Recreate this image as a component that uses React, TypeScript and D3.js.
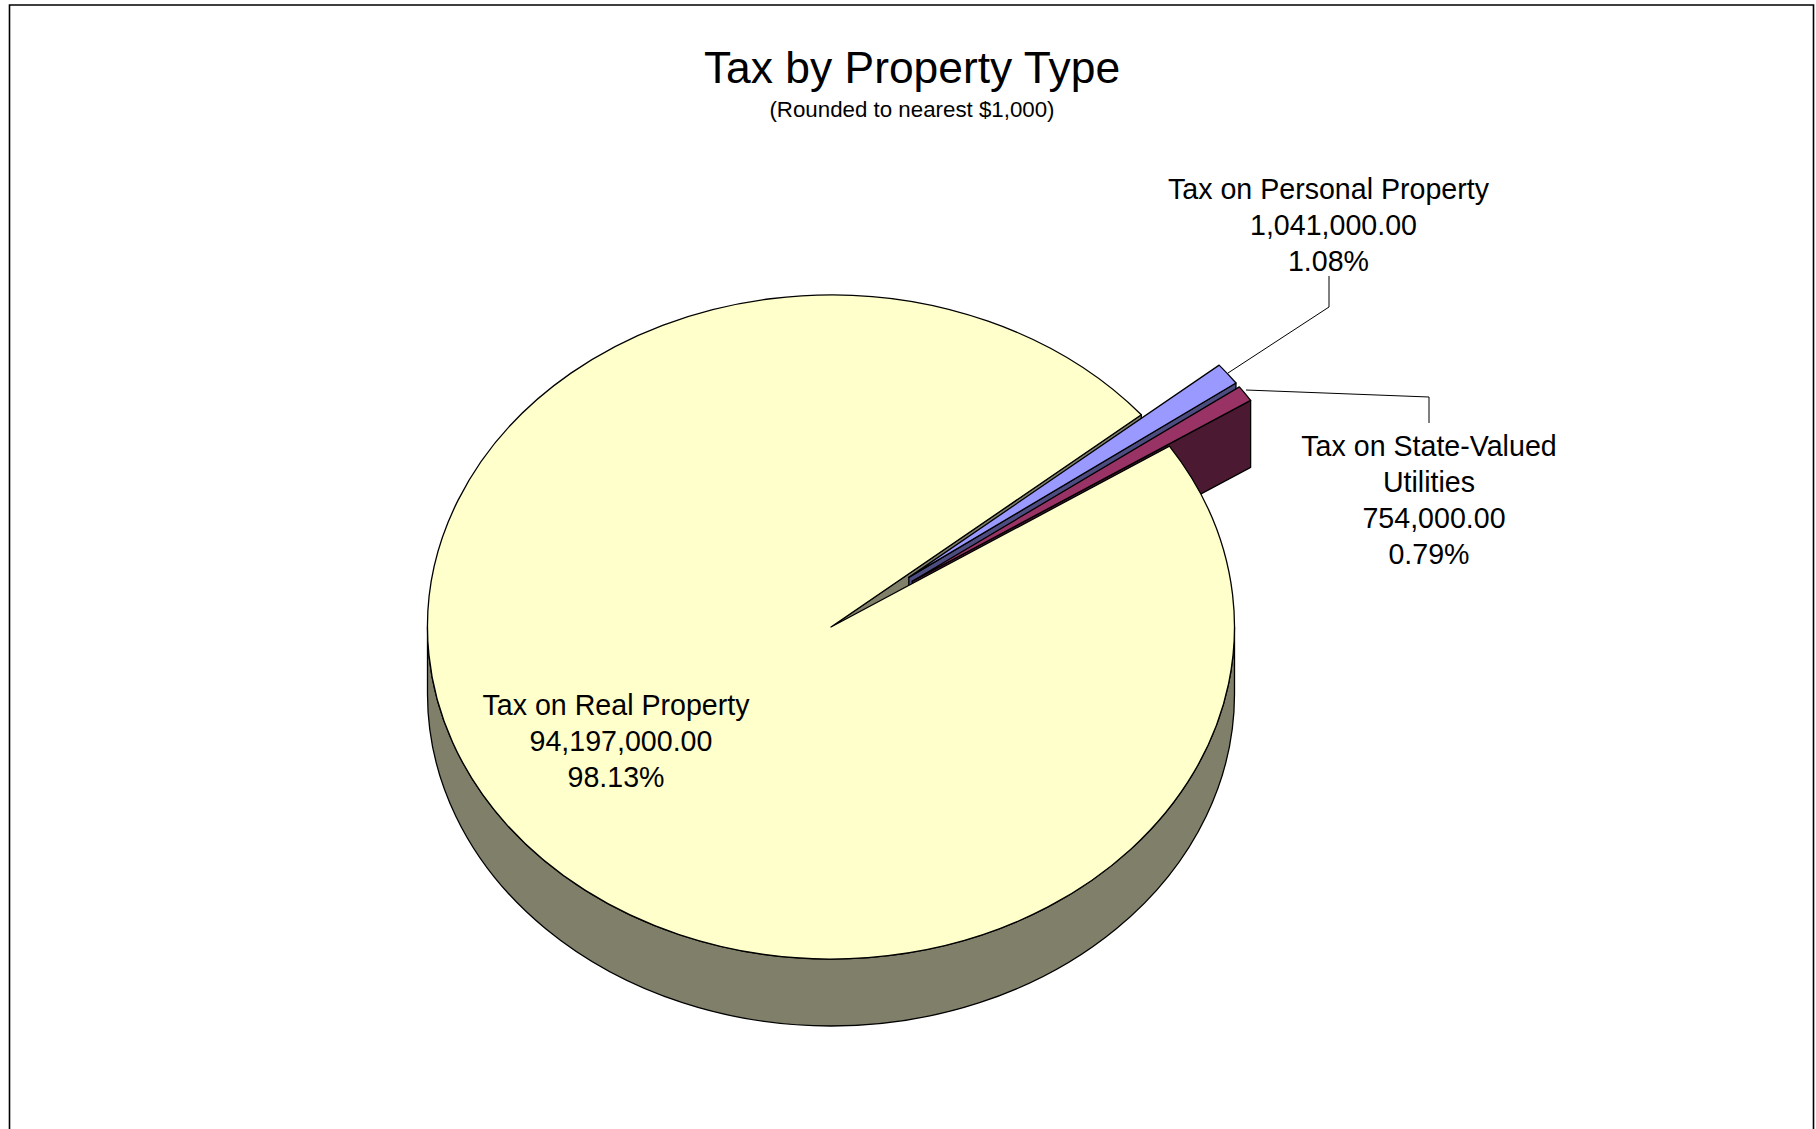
import React from "react";
import * as d3 from "d3";

const categories = ["Tax on Real Property", "Tax on Personal Property", "Tax on State-Valued Utilities"];
const values = [94197000, 1041000, 754000];
const percents = ["98.13%", "1.08%", "0.79%"];
const amounts = ["94,197,000.00", "1,041,000.00", "754,000.00"];
const topColors = ["#FFFFCC", "#9999FF", "#993366"];
const wallColors = ["#80806A", "#4C4C80", "#4C1933"];

const width = 1816;
const height = 1129;
const cx = 831;
const cy = 627;
const rx = 403.5;
const ry = 332;
const k = ry / rx;
const depth = 67 / k; // in circle space
const explode = 0.244;
const startDeg = 57;

const pie = d3
  .pie<number>()
  .sort(null)
  .startAngle((startDeg * Math.PI) / 180)
  .endAngle(((startDeg + 360) * Math.PI) / 180);
const arcs = pie(values);
const arcGen = d3.arc<d3.PieArcDatum<number>>().innerRadius(0).outerRadius(rx);

// offset of an exploded slice, circle space
const offset = (a: d3.PieArcDatum<number>, i: number) => {
  if (i === 0) return [0, 0];
  const mid = (a.startAngle + a.endAngle) / 2;
  return [Math.sin(mid) * rx * explode, -Math.cos(mid) * rx * explode];
};

// side wall of a radial cut at north-clockwise angle
const cutWall = (angle: number) => {
  const p = d3.path();
  const x = Math.sin(angle) * rx;
  const y = -Math.cos(angle) * rx;
  p.moveTo(0, 0);
  p.lineTo(x, y);
  p.lineTo(x, y + depth);
  p.lineTo(0, depth);
  p.closePath();
  return p.toString();
};

const rimPath = () => {
  const p = d3.path();
  p.moveTo(rx, 0);
  p.arc(0, 0, rx, 0, Math.PI);
  p.lineTo(-rx, depth);
  p.arc(0, depth, rx, Math.PI, 0, true);
  p.closePath();
  return p.toString();
};

const font = "'Liberation Sans', Arial, sans-serif";
const stroke = {
  stroke: "#000",
  strokeWidth: 1.3,
  strokeLinejoin: "round" as const,
  vectorEffect: "non-scaling-stroke" as const,
};

const labels = [
  { x: 616, y: 714.6, lines: [categories[0], amounts[0], percents[0]] },
  { x: 1328.5, y: 198.6, lines: [categories[1], amounts[1], percents[1]] },
  { x: 1429, y: 455.6, lines: ["Tax on State-Valued", "Utilities", amounts[2], percents[2]] },
];

const leaders = [
  [[1228, 373], [1329, 307], [1329, 276]],
  [[1246, 390], [1429, 397], [1429, 423]],
];

const App: React.FC = () => {
  const leaderLine = d3.line();
  return (
    <svg
      width={width}
      height={height}
      viewBox={`0 0 ${width} ${height}`}
      style={{ position: "absolute", left: 0, top: 0, background: "#fff" }}
      fontFamily={font}
    >
      <path d="M9.5 1129V5H1813.5V1129" fill="none" stroke="#000" strokeWidth={1.6} />

      <text x={912} y={83} textAnchor="middle" fontSize={44.4}>Tax by Property Type</text>
      <text x={912} y={117} textAnchor="middle" fontSize={22.3}>(Rounded to nearest $1,000)</text>

      <g transform={`translate(${cx},${cy}) scale(1,${k})`}>
        {/* walls first, the real property top covers them */}
        <path d={rimPath()} fill={wallColors[0]} {...stroke} />
        <path d={cutWall(arcs[0].endAngle)} fill={wallColors[0]} {...stroke} />
        {[1, 2].map((i) => {
          const [dx, dy] = offset(arcs[i], i);
          return (
            <path
              key={i}
              transform={`translate(${dx},${dy})`}
              d={cutWall(arcs[i].endAngle)}
              fill={wallColors[i]}
              {...stroke}
            />
          );
        })}
        <path d={arcGen(arcs[0]) ?? ""} fill={topColors[0]} {...stroke} />
        {[1, 2].map((i) => {
          const [dx, dy] = offset(arcs[i], i);
          return (
            <path
              key={i}
              transform={`translate(${dx},${dy})`}
              d={arcGen(arcs[i]) ?? ""}
              fill={topColors[i]}
              {...stroke}
            />
          );
        })}
      </g>

      {leaders.map((l, i) => (
        <path key={i} d={leaderLine(l as [number, number][]) ?? ""} fill="none" stroke="#000" strokeWidth={1} />
      ))}

      {labels.map((l, i) => (
        <text key={i} textAnchor="middle" fontSize={28.6}>
          {l.lines.map((t, j) => (
            // amounts sit a little right of centre, as in the source chart
            <tspan key={j} x={amounts.includes(t) ? l.x + 5 : l.x} y={l.y + j * 36}>{t}</tspan>
          ))}
        </text>
      ))}
    </svg>
  );
};

export default App;
